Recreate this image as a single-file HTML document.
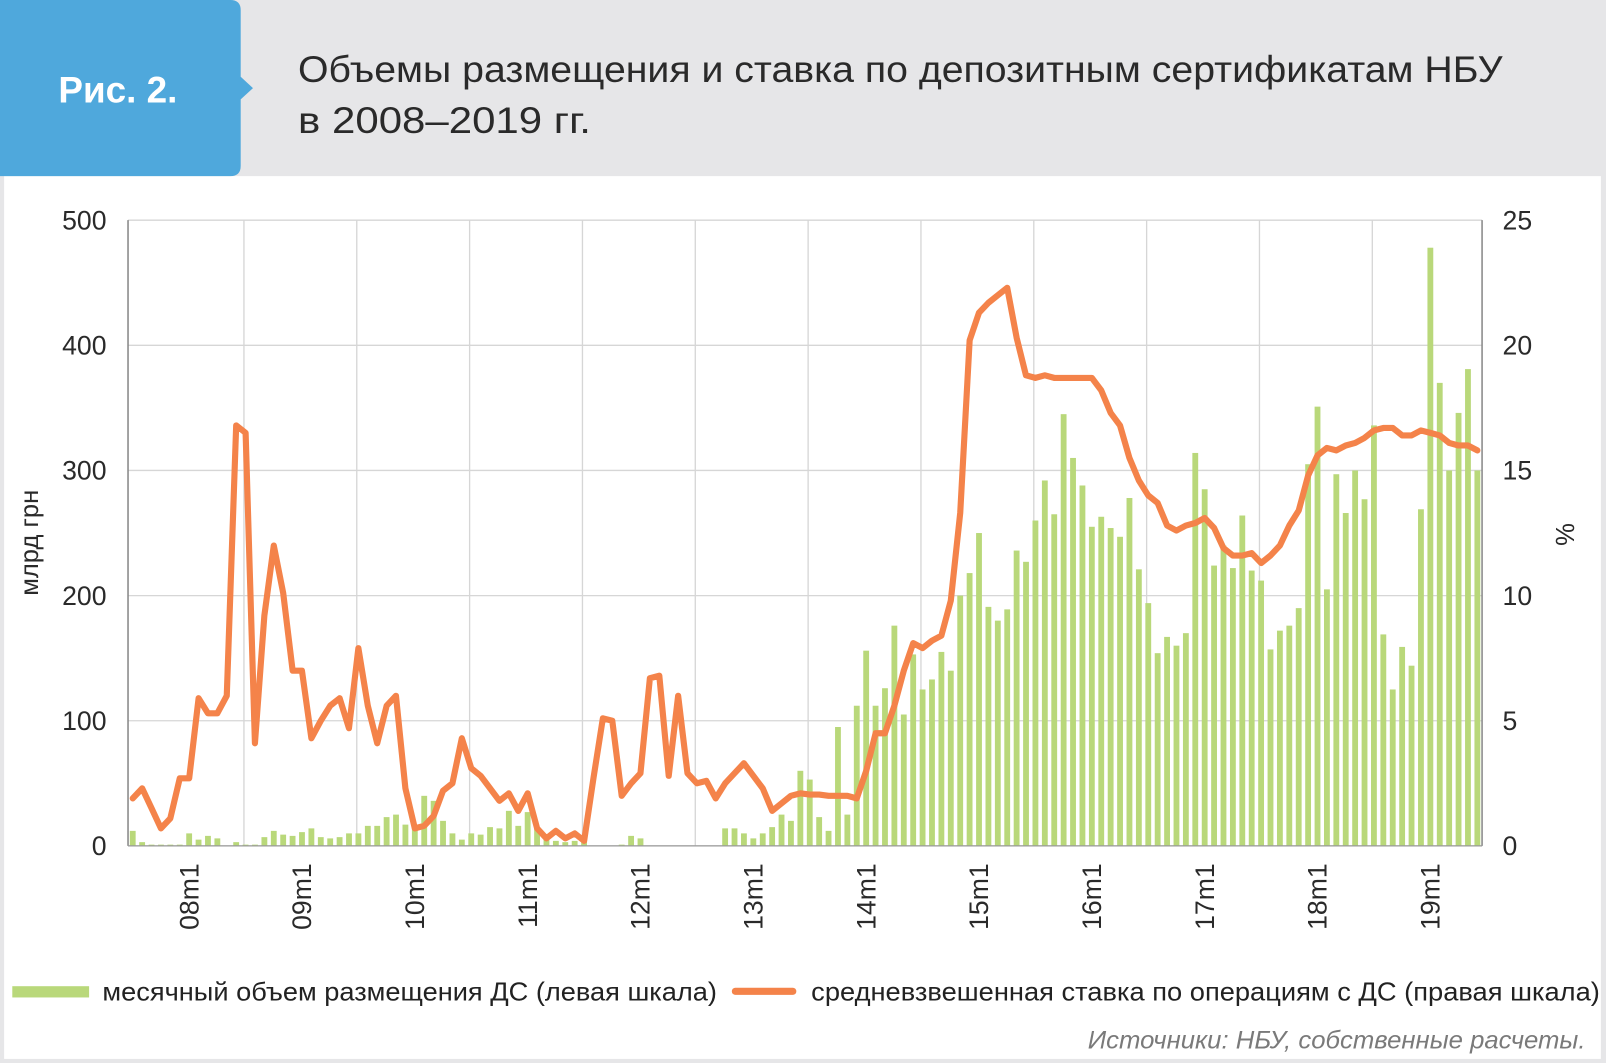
<!DOCTYPE html>
<html><head><meta charset="utf-8">
<style>
html,body{margin:0;padding:0;background:#e6e6e8;}
svg{display:block;}
text{font-family:"Liberation Sans","DejaVu Sans",sans-serif;}
</style></head>
<body>
<svg id="chart" width="1606" height="1063" viewBox="0 0 1568 1038" preserveAspectRatio="none" xmlns="http://www.w3.org/2000/svg">
  <rect x="0" y="0" width="1568" height="1038" fill="#e6e6e8"/>
  <rect x="4" y="172" width="1559" height="862" fill="#ffffff"/>
  <g>
    <path d="M0 0 H225 Q235 0 235 10 V75 L247 86 L235 97 V162 Q235 172 225 172 H0 Z" fill="#4fa8dc"/>
    <text x="57" y="100" font-size="36" font-weight="bold" fill="#ffffff">Рис. 2.</text>
  </g>
  <text x="291" y="80" font-size="36" fill="#2a2a2a" textLength="1176" lengthAdjust="spacingAndGlyphs">Объемы размещения и ставка по депозитным сертификатам НБУ</text>
  <text x="291" y="130" font-size="36" fill="#2a2a2a" textLength="286" lengthAdjust="spacingAndGlyphs">в 2008–2019 гг.</text>
  <g id="plot"></g>
  <g>
    <rect x="12" y="963" width="75" height="11" fill="#b9d87a"/>
    <text x="100" y="977" font-size="25" fill="#222" textLength="600" lengthAdjust="spacingAndGlyphs">месячный объем размещения ДС (левая шкала)</text>
    <line x1="718" y1="968" x2="774" y2="968" stroke="#f4834a" stroke-width="7" stroke-linecap="round"/>
    <text x="792" y="977" font-size="25" fill="#222" textLength="770" lengthAdjust="spacingAndGlyphs">средневзвешенная ставка по операциям с ДС (правая шкала)</text>
  </g>
  <text x="1548" y="1024" font-size="24" font-style="italic" fill="#7a7a7a" text-anchor="end" textLength="486" lengthAdjust="spacingAndGlyphs">Источники: НБУ, собственные расчеты.</text>
</svg>
<script>
const volumes = [12,3,1,1,1,1,10,5,8,6,0,3,1,1,7,12,9,8,11,14,7,6,7,10,10,16,16,23,25,17,15,40,36,20,10,5,10,9,15,14,28,16,27,15,5,4,3,4,5,0,0,0,1,8,6,0,0,0,0,0,0,0,0,
14,14,10,6,10,15,25,20,60,53,23,12,95,25,112,156,112,126,176,105,153,125,133,155,140,200,218,250,191,180,189,236,227,260,292,265,345,310,288,255,263,254,247,278,221,194,154,167,160,170,
314,285,224,240,222,264,220,212,157,172,176,190,305,351,205,297,266,300,277,336,169,125,159,144,269,478,370,300,346,381,300];
const rates = [1.9,2.3,1.5,0.7,1.1,2.7,2.7,5.9,5.3,5.3,6.0,16.8,16.5,4.1,9.2,12.0,10.1,7.0,7.0,4.3,5.0,5.6,5.9,4.7,7.9,5.6,4.1,5.6,6.0,2.3,0.7,0.8,1.2,2.2,2.5,4.3,3.1,2.8,2.3,1.8,2.1,1.4,2.1,0.7,0.3,0.6,0.3,0.5,0.2,2.7,5.1,5.0,2.0,2.5,2.9,6.7,6.8,2.8,6.0,2.9,2.5,2.6,1.9,2.5,2.9,3.3,2.8,2.3,1.4,1.7,2.0,2.1,2.05,2.05,2.0,2.0,2.0,1.9,3.0,4.5,4.5,5.6,7.0,8.1,7.9,8.2,8.4,9.8,13.3,20.2,21.3,21.7,22.0,22.3,20.3,18.8,18.7,18.8,18.7,18.7,18.7,18.7,18.7,18.2,17.3,16.8,15.5,14.6,14.0,13.7,12.8,12.6,12.8,12.9,13.1,12.7,11.9,11.6,11.6,11.7,11.3,11.6,12.0,12.8,13.4,14.8,15.6,15.9,15.8,16.0,16.1,16.3,16.6,16.7,16.7,16.4,16.4,16.6,16.5,16.4,16.1,16.0,16.0,15.8];
const yLeftTicks = [0,100,200,300,400,500];
const yRightTicks = [0,5,10,15,20,25];
const xTickLabels = ["08m1","09m1","10m1","11m1","12m1","13m1","14m1","15m1","16m1","17m1","18m1","19m1"];
const firstLabelIndex = 6;

const NS = "http://www.w3.org/2000/svg";
const plot = document.getElementById('plot');
const L = 125, R = 1447, T = 215, B = 826;
const N = 144;
const step = (R - L) / N;
const xBand = i => L + i * step;
const xC = i => L + (i + 0.5) * step;
const yL = v => B - v / 500 * (B - T);
const yR = v => B - v / 25 * (B - T);
function mk(tag, attrs){const e=document.createElementNS(NS,tag);for(const k in attrs)e.setAttribute(k,attrs[k]);plot.appendChild(e);return e;}

yLeftTicks.forEach((v,k)=>{
  const g = mk('line',{x1:L,x2:R,y1:yL(v),y2:yL(v),stroke:'#d6d6d6','stroke-width':1.3});
  
  
  const t = mk('text',{x:104,y:yL(v)+9,'font-size':26,fill:'#2a2a2a','text-anchor':'end'});
  t.textContent = v;
  
  
});
yRightTicks.forEach(v=>{
  const t = mk('text',{x:1467,y:yR(v)+9,'font-size':26,fill:'#2a2a2a'});
  t.textContent = v;
  
  
});
for(let k=1;k<=11;k++){
  const x = xBand(12*k) + 3;
  const g = mk('line',{x1:x,x2:x,y1:T,y2:B,stroke:'#d6d6d6','stroke-width':1.3});
  
  
}
volumes.forEach((v,i)=>{
  const w = step*0.62;
  const b = mk('rect',{x:xC(i)-w/2,y:yL(v),width:w,height:B-yL(v),fill:'#b9d87a'});
  
  
});
const ax = mk('line',{x1:L,x2:L,y1:T,y2:B,stroke:'#888','stroke-width':1.5});


const ax2 = mk('line',{x1:R,x2:R,y1:T,y2:B,stroke:'#888','stroke-width':1.5});


const ax3 = mk('line',{x1:L,x2:R,y1:B,y2:B,stroke:'#999','stroke-width':1.3});


const pts = rates.map((v,i)=>xC(i).toFixed(1)+','+yR(v).toFixed(1)).join(' ');
const pl = mk('polyline',{points:pts,fill:'none',stroke:'#f4834a','stroke-width':6,'stroke-linejoin':'round','stroke-linecap':'round'});


xTickLabels.forEach((lab,k)=>{
  const x = xC(firstLabelIndex + 12*k) + 9;
  const t = mk('text',{x:x,y:843,'font-size':26,fill:'#2a2a2a','text-anchor':'end',transform:`rotate(-90 ${x} 843)`});
  t.textContent = lab;
  
  
});
const yt = mk('text',{x:37,y:530,'font-size':25,fill:'#2a2a2a','text-anchor':'middle',transform:'rotate(-90 37 530)'});
yt.textContent = 'млрд грн';


const yt2 = mk('text',{x:1519,y:522,'font-size':25,fill:'#2a2a2a','text-anchor':'middle',transform:'rotate(90 1519 522)'});
yt2.textContent = '%';


</script>
</body></html>
